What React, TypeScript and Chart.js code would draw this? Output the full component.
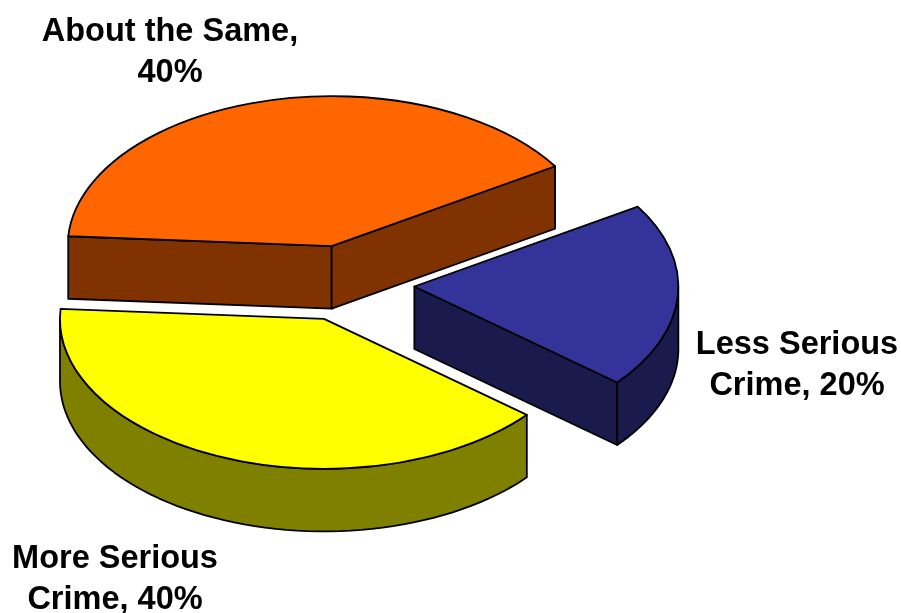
import React, { useEffect, useRef } from "react";
import { Chart, registerables } from "chart.js";

Chart.register(...registerables);

const categories = ["About the Same", "Less Serious Crime", "More Serious Crime"];
const shares = [40, 20, 40];
const topColors = ["#FF6600", "#333399", "#FFFF00"];
const wallColors = ["#803300", "#1A1A4D", "#808000"];
const explodeFractions = [0.26, 0.25, 0.25];
const labelLines = [
  ["About the Same,", "40%"],
  ["Less Serious", "Crime, 20%"],
  ["More Serious", "Crime, 40%"],
];
const labelAnchors = [
  { x: 170, y: 32 },
  { x: 797, y: 345 },
  { x: 115, y: 559 },
];

const WIDTH = 901;
const HEIGHT = 613;
const CENTER_X = 348.5;
const CENTER_Y = 284;
const RADIUS = 264;
const SQUASH = 150 / 264;
const DEPTH = 62.5;
const LABEL_GAP = 41;

const pie3d = {
  id: "pie3d",
  beforeDatasetsDraw(chart: any) {
    const ctx: CanvasRenderingContext2D = chart.ctx;
    const arcs = chart.getDatasetMeta(0).data;
    arcs.forEach((arc: any, i: number) => {
      const { x, y, startAngle: a, endAngle: b, outerRadius: r } = arc.getProps(
        ["x", "y", "startAngle", "endAngle", "outerRadius"],
        true
      );
      const mid = (a + b) / 2;
      const ox = Math.cos(mid) * r * explodeFractions[i];
      const oy = Math.sin(mid) * r * explodeFractions[i] * SQUASH;
      const px = (ang: number) => x + ox + Math.cos(ang) * r;
      const py = (ang: number) => y + oy + Math.sin(ang) * r * SQUASH;
      const ax = x + ox;
      const ay = y + oy;

      ctx.save();
      ctx.lineJoin = "round";
      ctx.lineWidth = 1.8;
      ctx.strokeStyle = "#000";
      ctx.fillStyle = wallColors[i];

      const radialWall = (ang: number) => {
        ctx.beginPath();
        ctx.moveTo(ax, ay);
        ctx.lineTo(px(ang), py(ang));
        ctx.lineTo(px(ang), py(ang) + DEPTH);
        ctx.lineTo(ax, ay + DEPTH);
        ctx.closePath();
        ctx.fill();
        ctx.stroke();
      };
      if (Math.sin(a - Math.PI / 2) > 0) radialWall(a);
      if (Math.sin(b + Math.PI / 2) > 0) radialWall(b);

      // outer rim: the part of the slice that lies on the near half of the ellipse
      const turn = Math.PI * 2;
      for (let k = -1; k <= 1; k++) {
        const s = Math.max(a, k * turn);
        const e = Math.min(b, k * turn + Math.PI);
        if (e <= s) continue;
        const steps = 60;
        ctx.beginPath();
        for (let n = 0; n <= steps; n++) {
          const t = s + ((e - s) * n) / steps;
          ctx.lineTo(px(t), py(t));
        }
        for (let n = steps; n >= 0; n--) {
          const t = s + ((e - s) * n) / steps;
          ctx.lineTo(px(t), py(t) + DEPTH);
        }
        ctx.closePath();
        ctx.fill();
        ctx.stroke();
      }

      // top face: the library's own arc element, squashed and shifted
      ctx.save();
      ctx.translate(x + ox, y + oy);
      ctx.scale(1, SQUASH);
      ctx.translate(-x, -y);
      arc.draw(ctx);
      ctx.beginPath();
      ctx.moveTo(x, y);
      ctx.arc(x, y, r, a, b);
      ctx.closePath();
      ctx.restore();
      ctx.stroke();
      ctx.restore();
    });

    ctx.save();
    ctx.fillStyle = "#000";
    ctx.font = 'bold 32.5px "Liberation Sans", Arial, sans-serif';
    ctx.textAlign = "center";
    ctx.textBaseline = "middle";
    labelLines.forEach((lines, i) => {
      lines.forEach((line, j) => {
        ctx.fillText(line, labelAnchors[i].x, labelAnchors[i].y + j * LABEL_GAP);
      });
    });
    ctx.restore();
    return false;
  },
};

export default function App() {
  const ref = useRef<HTMLCanvasElement>(null);
  useEffect(() => {
    const chart = new Chart(ref.current!, {
      type: "pie",
      data: {
        labels: categories,
        datasets: [
          {
            data: shares,
            backgroundColor: topColors,
            borderWidth: 0,
          },
        ],
      },
      options: {
        animation: false,
        responsive: false,
        rotation: -86.2,
        radius: RADIUS,
        layout: {
          padding: {
            left: 0,
            top: 0,
            right: WIDTH - 2 * CENTER_X,
            bottom: HEIGHT - 2 * CENTER_Y,
          },
        },
        plugins: { legend: { display: false }, tooltip: { enabled: false } },
      },
      plugins: [pie3d],
    } as any);
    return () => chart.destroy();
  }, []);
  return (
    <div style={{ position: "absolute", left: 0, top: 0, width: WIDTH, height: HEIGHT, background: "#fff", overflow: "hidden" }}>
      <canvas ref={ref} width={WIDTH} height={HEIGHT} style={{ display: "block" }} />
    </div>
  );
}
